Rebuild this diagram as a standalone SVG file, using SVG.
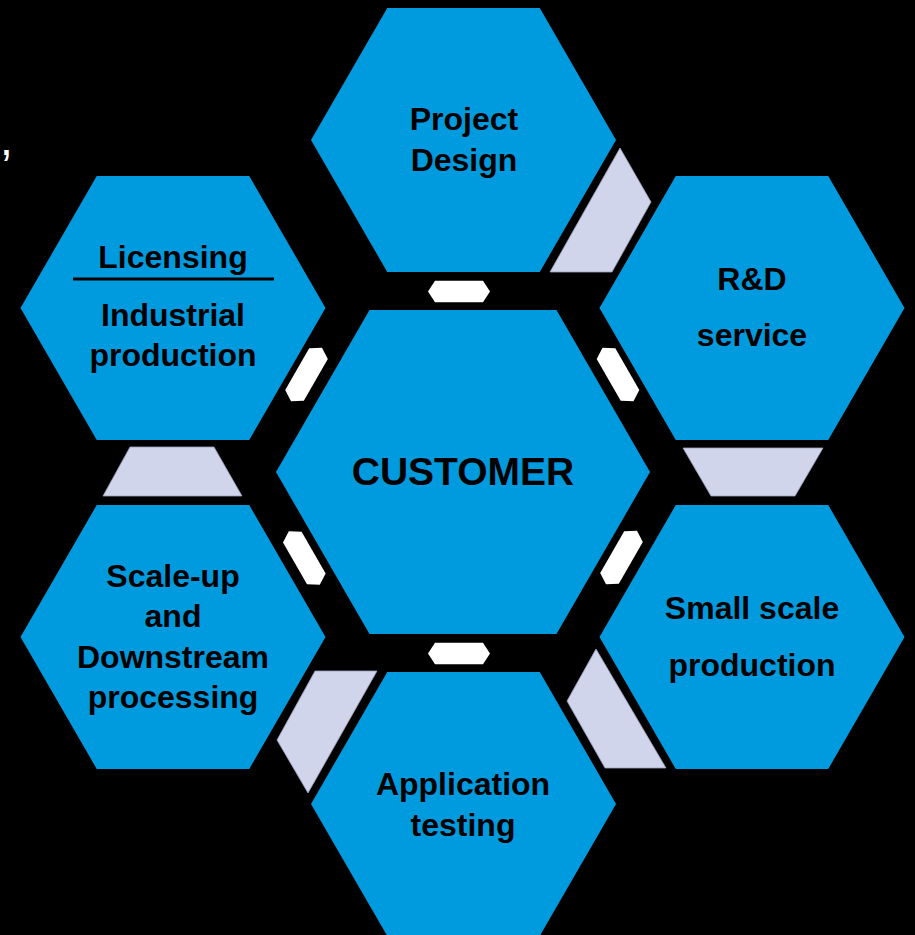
<svg xmlns="http://www.w3.org/2000/svg" xmlns:xlink="http://www.w3.org/1999/xlink" width="915" height="935" viewBox="0 0 915 935">
<style>
.hex{fill:#009ADE;}
.lav{fill:#D0D5EB;stroke:#9aa0bb;stroke-width:0.8;}
.lnk{fill:#FFFFFF;}
.t{font-family:"Liberation Sans",Arial,sans-serif;font-weight:bold;font-size:32px;fill:#000;text-anchor:middle;}
.big{font-size:39px;}
</style>
<defs>
<polygon id="link" points="-31,0 -24,-10.75 24,-10.75 31,0 24,10.75 -24,10.75"/>
</defs>
<rect x="0" y="0" width="915" height="935" fill="#000"/>
<text x="0" y="155" font-family="Liberation Sans,Arial,sans-serif" font-size="46" fill="#fff">,</text>

<g id="connectors">
<polygon class="lav" points="620,148 651,202 612,272 550,272"/>
<polygon class="lav" points="683,448 823,448 795,496 711,496"/>
<polygon class="lav" points="596,649 567,701 605,768 666,768"/>
<polygon class="lav" points="315,671 377,671 308,793 277,740"/>
<polygon class="lav" points="130,447 214,447 242,496 103,496"/>
<use xlink:href="#link" class="lnk" transform="translate(459,291.5)"/>
<use xlink:href="#link" class="lnk" transform="translate(459,653.5)"/>
<use xlink:href="#link" class="lnk" transform="translate(306.5,374.5) rotate(-60)"/>
<use xlink:href="#link" class="lnk" transform="translate(618,374.5) rotate(60)"/>
<use xlink:href="#link" class="lnk" transform="translate(621.5,557.5) rotate(-60)"/>
<use xlink:href="#link" class="lnk" transform="translate(304.3,558) rotate(60)"/>
</g>

<g id="customer">
<polygon class="hex" points="276,472 369.5,310 556.5,310 650,472 556.5,634 369.5,634"/>
<text class="t big" x="463" y="485">CUSTOMER</text>
</g>
<g id="project-design">
<polygon class="hex" points="311,140 387.25,8 539.75,8 616,140 539.75,272 387.25,272"/>
<text class="t" x="464" y="130">Project</text>
<text class="t" x="464" y="171">Design</text>
</g>
<g id="rd-service">
<polygon class="hex" points="599.5,308 675.75,176 828.25,176 904.5,308 828.25,440 675.75,440"/>
<text class="t" x="752" y="290">R&amp;D</text>
<text class="t" x="752" y="346">service</text>
</g>
<g id="small-scale">
<polygon class="hex" points="599.5,637 675.75,505 828.25,505 904.5,637 828.25,769 675.75,769"/>
<text class="t" x="752" y="619">Small scale</text>
<text class="t" x="752" y="676">production</text>
</g>
<g id="application-testing">
<polygon class="hex" points="311,804 387.25,672 539.75,672 616,804 539.75,936 387.25,936"/>
<text class="t" x="463" y="795">Application</text>
<text class="t" x="463" y="836">testing</text>
</g>
<g id="scale-up">
<polygon class="hex" points="20.5,637 96.75,505 249.25,505 325.5,637 249.25,769 96.75,769"/>
<text class="t" x="173" y="587">Scale-up</text>
<text class="t" x="173" y="627">and</text>
<text class="t" x="173" y="668">Downstream</text>
<text class="t" x="173" y="708">processing</text>
</g>
<g id="licensing">
<polygon class="hex" points="20.5,308 96.75,176 249.25,176 325.5,308 249.25,440 96.75,440"/>
<text class="t" x="173" y="268">Licensing</text>
<line x1="73" y1="279" x2="274" y2="279" stroke="#000" stroke-width="3"/>
<text class="t" x="173" y="326">Industrial</text>
<text class="t" x="173" y="366">production</text>
</g>
</svg>
